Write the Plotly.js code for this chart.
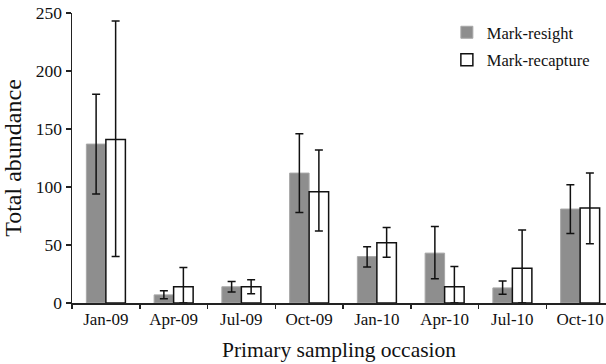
<!DOCTYPE html>
<html>
<head>
<meta charset="utf-8">
<script src="https://cdn.plot.ly/plotly-3.0.1.min.js"></script>
<style>html,body{margin:0;padding:0;background:#fff;}#chart{width:606px;height:364px;}</style>
</head>
<body>
<div id="chart"></div>
<script>
var categories = ["Jan-09", "Apr-09", "Jul-09", "Oct-09", "Jan-10", "Apr-10", "Jul-10", "Oct-10"];

var resightValues = [137, 7, 14, 112, 40, 43, 13, 81];
var resightUpper  = [180, 10.5, 18.5, 146, 48.5, 66, 19, 102];
var resightLower  = [94, 3.7, 9.5, 78, 31, 21, 7.5, 60];

var recaptureValues = [141, 14, 14, 96, 52, 14, 30, 82];
var recaptureUpper  = [243, 30.5, 20, 132, 65, 31.5, 63, 112];
var recaptureLower  = [40, 0, 8, 62, 39.5, 0, 0, 51];

var yTicks = [0, 50, 100, 150, 200, 250];

function plus(v, up) { return v.map(function (d, i) { return up[i] - d; }); }
function minus(v, lo) { return v.map(function (d, i) { return d - lo[i]; }); }

var serif = "Liberation Serif, Times New Roman, serif";

var traces = [
  {
    type: "bar", name: "Mark-resight", x: categories, y: resightValues,
    legendgroup: "a",
    marker: { color: "#8e8e8e", line: { color: "#a8a8a8", width: 1 } },
    error_y: { type: "data", symmetric: false, array: plus(resightValues, resightUpper),
      arrayminus: minus(resightValues, resightLower), color: "#111", thickness: 1.5, width: 4 }
  },
  {
    type: "bar", name: "Mark-recapture", x: categories, y: recaptureValues,
    legendgroup: "b",
    marker: { color: "#ffffff", line: { color: "#111", width: 1.5 } },
    error_y: { type: "data", symmetric: false, array: plus(recaptureValues, recaptureUpper),
      arrayminus: minus(recaptureValues, recaptureLower), color: "#111", thickness: 1.5, width: 4 }
  }
];

var layout = {
  width: 606, height: 364,
  margin: { l: 72, r: 0, t: 13, b: 61, pad: 0 },
  paper_bgcolor: "#fff", plot_bgcolor: "#fff",
  barmode: "group", bargap: 0.424, bargroupgap: 0,
  font: { family: serif, color: "#111", size: 16 },
  xaxis: {
    type: "category", range: [-0.5, 7.382],
    showline: true, linecolor: "#222", linewidth: 1.5,
    ticks: "outside", tickson: "boundaries", ticklen: 4, tickwidth: 1.5, tickcolor: "#222",
    showgrid: false, zeroline: false,
    tickfont: { family: serif, size: 17, color: "#111" },
    title: { text: "Primary sampling occasion", font: { family: serif, size: 21.5, color: "#111" }, standoff: 14 },
    automargin: false
  },
  yaxis: {
    range: [0, 250], tickvals: yTicks,
    showline: true, linecolor: "#222", linewidth: 1.5,
    ticks: "outside", ticklen: 5, tickwidth: 1.5, tickcolor: "#222",
    showgrid: false, zeroline: false,
    tickfont: { family: serif, size: 17.5, color: "#111" },
    title: { text: "Total abundance", font: { family: serif, size: 24, color: "#111" }, standoff: 9 },
    automargin: false
  },
  showlegend: true,
  legend: {
    x: 0.702, y: 0.993, xanchor: "left", yanchor: "top",
    bgcolor: "rgba(0,0,0,0)", borderwidth: 0,
    font: { family: serif, size: 16.5, color: "#111" },
    tracegroupgap: 3, traceorder: "grouped"
  }
};

Plotly.newPlot("chart", traces, layout, { displayModeBar: false, staticPlot: true });
</script>
</body>
</html>
